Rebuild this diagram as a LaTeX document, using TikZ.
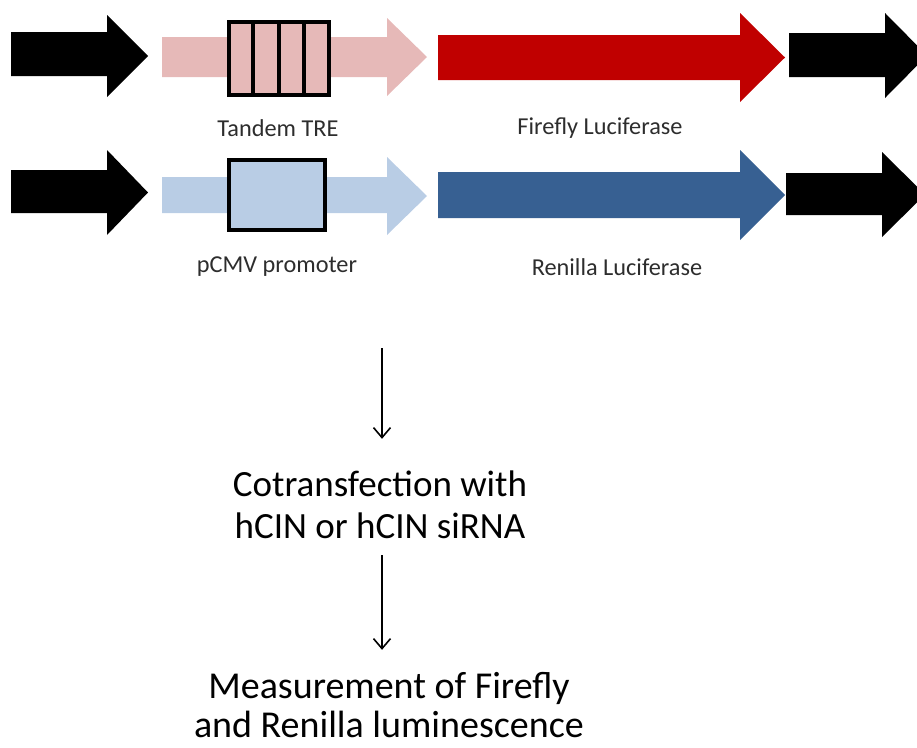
\documentclass[tikz,border=0pt]{standalone}
\usepackage{fontspec}
\setmainfont{Carlito}
\usetikzlibrary{arrows.meta}
\definecolor{pinklt}{RGB}{230,185,184}
\definecolor{redff}{RGB}{192,0,0}
\definecolor{bluelt}{RGB}{185,205,229}
\definecolor{bluedk}{RGB}{55,96,146}
\definecolor{labelgray}{RGB}{45,45,45}
\begin{document}
\begin{tikzpicture}[x=1pt,y=-1pt,
  boxnode/.style={draw=black,line width=3.5pt,inner sep=0pt},
  smalllabel/.style={font=\fontsize{24.3}{28}\selectfont,text=labelgray,inner sep=0pt},
  biglabel/.style={align=center,inner sep=0pt},
  flow/.style={line width=1.6pt,-{Straight Barb[length=10pt,width=17pt,line width=1.6pt]}}
]
\useasboundingbox (0,0) rectangle (917,747);
\begin{scope}
\clip (0,0) rectangle (917,747);
% row 1
\fill[black] (11,32) -- (107,32) -- (107,15) -- (148,56) -- (107,97) -- (107,76) -- (11,76) -- cycle;
\fill[pinklt] (162,37) -- (387,37) -- (387,18) -- (427,57) -- (387,96) -- (387,77) -- (162,77) -- cycle;
\fill[redff] (438,35) -- (740,35) -- (740,13) -- (785,57.5) -- (740,102) -- (740,80) -- (438,80) -- cycle;
\fill[black] (789,33) -- (885,33) -- (885,13) -- (927,55.5) -- (885,98) -- (885,77) -- (789,77) -- cycle;
% row 2
\fill[black] (11,170) -- (107,170) -- (107,150) -- (148,192.5) -- (107,235) -- (107,213) -- (11,213) -- cycle;
\fill[bluelt] (162,177) -- (387,177) -- (387,157) -- (427,196) -- (387,235) -- (387,213) -- (162,213) -- cycle;
\fill[bluedk] (438,172) -- (740,172) -- (740,150) -- (785,195) -- (740,240) -- (740,218) -- (438,218) -- cycle;
\fill[black] (786,173) -- (882,173) -- (882,152) -- (925,194.5) -- (882,237) -- (882,215) -- (786,215) -- cycle;
\end{scope}
% promoter boxes
\node[boxnode,fill=pinklt,minimum width=100pt,minimum height=73pt] (tre) at (279,58.5) {};
\draw[line width=4pt] (253,22) -- (253,95) (279,22) -- (279,95) (304,22) -- (304,95);
\node[boxnode,fill=bluelt,minimum width=96pt,minimum height=70pt] (cmv) at (277,195) {};
% labels
\node[smalllabel] (trel) at (278,128) {Tandem TRE};
\node[smalllabel] (ffl) at (600,128) {Firefly Luciferase};
\node[smalllabel] (cmvl) at (277,267) {pCMV promoter};
\node[smalllabel] (rnl) at (617,267) {Renilla Luciferase};
% workflow
\coordinate (start) at (382,348);
\node[biglabel,font=\fontsize{37}{42}\selectfont] (cot) at (380,505) {Cotransfection with\\hCIN or hCIN siRNA};
\node[biglabel,font=\fontsize{38}{39.5}\selectfont] (meas) at (389,705) {Measurement of Firefly\\and Renilla luminescence};
\draw[flow,shorten >=32pt] (start) -- (start |- cot.north);
\draw[flow,shorten <=16pt,shorten >=22pt] (start |- cot.south) -- (start |- meas.north);
\end{tikzpicture}
\end{document}
